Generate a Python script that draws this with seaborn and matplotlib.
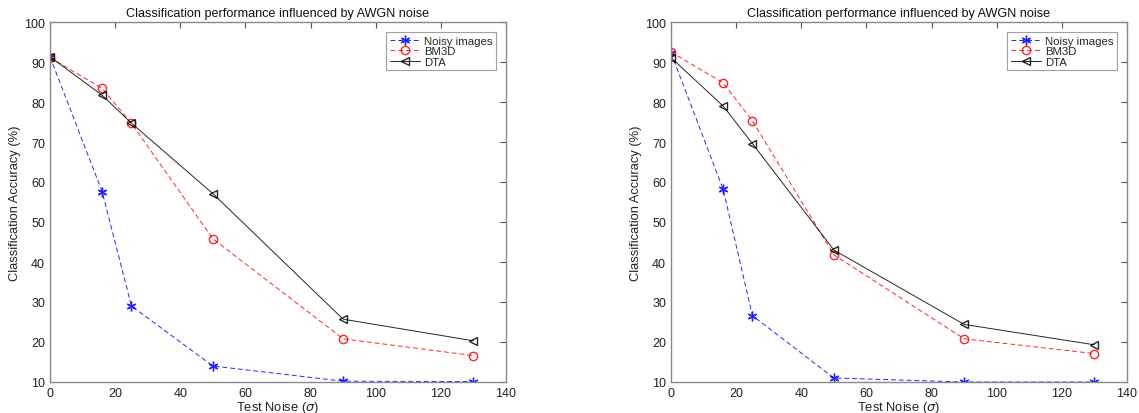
import matplotlib
matplotlib.use("Agg")
import matplotlib.pyplot as plt
import seaborn as sns
import pandas as pd

# Test noise levels (sigma)
noise_levels = [0, 16, 25, 50, 90, 130]

# Left experiment: classification accuracy (%)
left_noisy = [91.3, 57.6, 29.0, 14.0, 10.2, 10.1]
left_bm3d = [91.1, 83.4, 74.7, 45.8, 20.8, 16.6]
left_dta = [91.3, 81.7, 74.7, 57.1, 25.7, 20.3]

# Right experiment: classification accuracy (%)
right_noisy = [92.3, 58.2, 26.6, 11.0, 10.0, 10.0]
right_bm3d = [92.5, 84.8, 75.3, 41.8, 20.8, 17.1]
right_dta = [91.1, 79.0, 69.6, 43.0, 24.4, 19.3]

series_names = ["Noisy images", "BM3D", "DTA"]
x_ticks = [0, 20, 40, 60, 80, 100, 120, 140]
y_ticks = [10, 20, 30, 40, 50, 60, 70, 80, 90, 100]

sns.set_theme(style="white")
plt.rcParams["font.family"] = ["Liberation Sans", "DejaVu Sans"]
plt.rcParams["mathtext.fontset"] = "dejavusans"

styles = {
    "Noisy images": dict(color="#0000ff", linestyle=(0, (5, 3)), marker=(6, 2, 0),
                         markersize=7, markeredgewidth=1.0, markerfacecolor="none"),
    "BM3D": dict(color="#ff0000", linestyle=(0, (5, 3)), marker="o",
                 markersize=6, markeredgewidth=1.0, markerfacecolor="none"),
    "DTA": dict(color="#000000", linestyle="-", marker="<",
                markersize=6, markeredgewidth=1.0, markerfacecolor="none"),
}


def long_frame(noisy, bm3d, dta):
    rows = []
    for name, vals in zip(series_names, [noisy, bm3d, dta]):
        for x, y in zip(noise_levels, vals):
            rows.append({"sigma": x, "acc": y, "method": name})
    return pd.DataFrame(rows)


fig = plt.figure(figsize=(11.39, 4.14), dpi=100)
ax_left = fig.add_axes([50 / 1139, 1 - 383 / 414, 456 / 1139, 360 / 414])
ax_right = fig.add_axes([671 / 1139, 1 - 383 / 414, 456 / 1139, 360 / 414])

for ax, data in [(ax_left, long_frame(left_noisy, left_bm3d, left_dta)),
                 (ax_right, long_frame(right_noisy, right_bm3d, right_dta))]:
    for name in series_names:
        st = styles[name]
        sub = data[data["method"] == name]
        sns.lineplot(data=sub, x="sigma", y="acc", ax=ax, label=name,
                     color=st["color"], linewidth=0.7, estimator=None, sort=False,
                     marker=st["marker"], markersize=st["markersize"],
                     markeredgewidth=st["markeredgewidth"],
                     markeredgecolor=st["color"], markerfacecolor=st["markerfacecolor"])
        line = ax.get_lines()[-1]
        line.set_linestyle(st["linestyle"])
        line.set_alpha(0.85)

    ax.set_xlim(0, 140)
    ax.set_ylim(10, 100)
    ax.set_xticks(x_ticks)
    ax.set_yticks(y_ticks)
    ax.tick_params(direction="in", length=4, width=0.8, color="#555555",
                   top=True, right=True, labelsize=9, labelcolor="#222222", pad=3.5)
    for sp in ax.spines.values():
        sp.set_color("#888888")
        sp.set_linewidth(1.0)
    ax.set_title("Classification performance influenced by AWGN noise",
                 fontsize=9.1, color="#111111", pad=4)
    ax.set_xlabel(r"Test Noise ($\sigma$)", fontsize=9.3, color="#222222", labelpad=0)
    ax.set_ylabel("Classification Accuracy (%)", fontsize=9.3, color="#222222", labelpad=2)
    leg = ax.legend(loc="upper right", fontsize=8.2, frameon=True, fancybox=False,
                    borderpad=0.3, labelspacing=0.05, handlelength=2.7,
                    handletextpad=0.3, borderaxespad=0.9, edgecolor="#888888")
    leg.get_frame().set_linewidth(0.8)
    ax.grid(False)

fig.savefig("out.png", dpi=100)
